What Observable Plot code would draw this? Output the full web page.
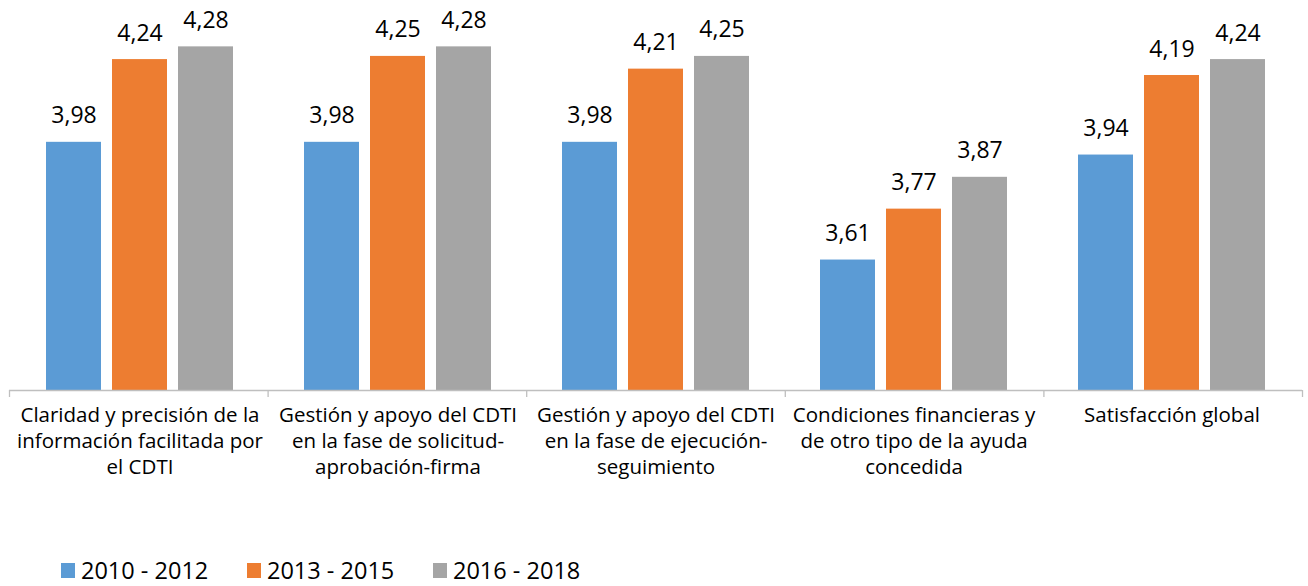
<!DOCTYPE html>
<html>
<head>
<meta charset="utf-8">
<script src="https://cdn.jsdelivr.net/npm/d3@7"></script>
<script src="https://cdn.jsdelivr.net/npm/@observablehq/plot@0.6"></script>
<style>
  body { margin: 0; background: #fff; font-family: "Open Sans", sans-serif; }
  #wrap { position: relative; width: 1308px; height: 500px; }
  #wrap svg { position: absolute; left: 0; top: 0; }
  #legend { position: absolute; left: 61px; top: 555px; display: flex; font-size: 23.5px; line-height: 30px; color: #000; font-family: "Open Sans", sans-serif; }
  .item { display: flex; align-items: center; width: 186px; }
  .sw { width: 14px; height: 15px; margin-right: 6px; }
</style>
</head>
<body>
<div id="wrap"></div>
<div id="legend"></div>
<script>
const categories = [
  "Claridad y precisión de la\ninformación facilitada por\nel CDTI",
  "Gestión y apoyo del CDTI\nen la fase de solicitud-\naprobación-firma",
  "Gestión y apoyo del CDTI\nen la fase de ejecución-\nseguimiento",
  "Condiciones financieras y\nde otro tipo de la ayuda\nconcedida",
  "Satisfacción global"
];
const series = ["2010 - 2012", "2013 - 2015", "2016 - 2018"];
const values2010 = [3.98, 3.98, 3.98, 3.61, 3.94];
const values2013 = [4.24, 4.25, 4.21, 3.77, 4.19];
const values2016 = [4.28, 4.28, 4.25, 3.87, 4.24];
const colors = ["#5B9BD5", "#ED7D31", "#A5A5A5"];
const yDomain = [3.2, 4.3];

const allValues = [values2010, values2013, values2016];
const data = [];
categories.forEach((c, i) => {
  series.forEach((s, j) => data.push({cat: c, series: s, value: allValues[j][i]}));
});

const W = 1308, H = 500, mt = 40, mb = 110, ml = 9, mr = 6;
const fmt = v => v.toFixed(2).replace(".", ",");

const chart = Plot.plot({
  width: W, height: H,
  marginTop: mt, marginBottom: mb, marginLeft: ml, marginRight: mr,
  style: {fontFamily: "'Open Sans', sans-serif", background: "transparent"},
  fx: {domain: categories, paddingInner: 0.277, paddingOuter: 0.1385, label: null},
  x: {domain: series, paddingInner: 0.167, paddingOuter: 0, axis: null},
  y: {domain: yDomain, axis: null},
  color: {domain: series, range: colors},
  marks: [
    Plot.barY(data, {fx: "cat", x: "series", y1: yDomain[0], y2: "value", fill: "series"}),
    Plot.text(data, {fx: "cat", x: "series", y: "value", text: d => fmt(d.value), lineAnchor: "bottom", dy: -19, fontSize: 23, fill: "#000"}),
    Plot.axisFx({anchor: "bottom", tickSize: 0, tickPadding: 13, fontSize: 20.5, lineHeight: 1.27, lineAnchor: "top", label: null, fill: "#000", tickFormat: d => d})
  ]
});

const axisPlot = Plot.plot({
  width: W, height: H,
  marginTop: mt, marginBottom: mb, marginLeft: ml, marginRight: mr,
  style: {background: "transparent"},
  x: {type: "linear", domain: [0, categories.length], axis: null},
  y: {domain: yDomain, axis: null},
  marks: [
    Plot.ruleY([yDomain[0]], {stroke: "#bfbfbf", strokeWidth: 1.3}),
    Plot.axisX(d3.range(categories.length + 1), {tickSize: 7, tickFormat: () => "", stroke: "#bfbfbf", strokeWidth: 1.3, strokeOpacity: 1})
  ]
});

const wrap = document.getElementById("wrap");
wrap.appendChild(chart);
wrap.appendChild(axisPlot);

const legend = document.getElementById("legend");
series.forEach((s, j) => {
  const it = document.createElement("div");
  it.className = "item";
  it.innerHTML = `<div class="sw" style="background:${colors[j]}"></div><span>${s}</span>`;
  legend.appendChild(it);
});
</script>
</body>
</html>
